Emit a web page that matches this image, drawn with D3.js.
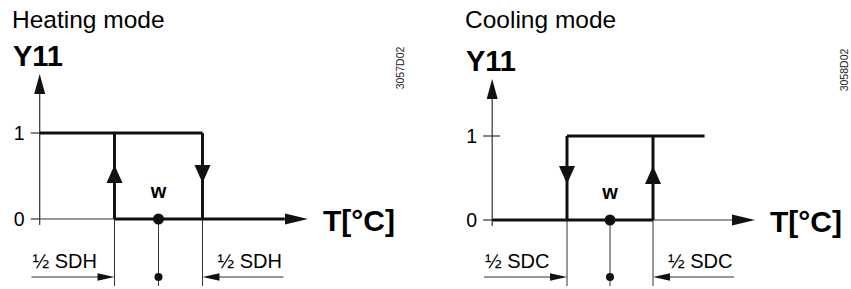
<!DOCTYPE html>
<html>
<head>
<meta charset="utf-8">
<script src="https://cdn.jsdelivr.net/npm/d3@7"></script>
<style>
  body { margin: 0; background: #fff; }
  svg { display: block; font-family: "Liberation Sans", Arial, sans-serif; }
</style>
</head>
<body>
<div class="container"></div>
<script>
// values (x in units of half switching differential, w = 0)
const titles = ["Heating mode", "Cooling mode"];
const yLabel = "Y11";
const xLabel = "T[°C]";
const dimLabels = ["½ SDH", "½ SDC"];
const drawingIds = ["3057D02", "3058D02"];
const yTicks = [0, 1];
const setpoint = 0;
const switchPoints = [-1, 1];
const heatingUpper = [[-2.7, 1], [1, 1]];
const heatingLower = [[-1, 0], [2.87, 0]];
const coolingUpper = [[-1, 1], [2.2, 1]];
const coolingLower = [[-2.74, 0], [1, 0]];
const heatingRise = -1, heatingFall = 1;
const coolingRise = 1, coolingFall = -1;

const width = 851, height = 289;

const svg = d3.select('.container')
    .append('svg')
    .attr('width', width)
    .attr('height', height);

const line = d3.line();

function arrowHead(g, tip, dir, len, half) {
    // dir: 'up' | 'down' | 'left' | 'right'
    let pts;
    const [x, y] = tip;
    if (dir == 'up') pts = [[x, y], [x - half, y + len], [x + half, y + len]];
    if (dir == 'down') pts = [[x, y], [x - half, y - len], [x + half, y - len]];
    if (dir == 'right') pts = [[x, y], [x - len, y - half], [x - len, y + half]];
    if (dir == 'left') pts = [[x, y], [x + len, y - half], [x + len, y + half]];
    g.append('path').attr('d', line(pts) + 'Z').attr('fill', '#111');
}

function drawPanel(p) {
    const g = svg.append('g');
    const x = d3.scaleLinear().domain(switchPoints).range(p.xRange);
    const y = d3.scaleLinear().domain([0, 1]).range(p.yRange);
    const ax = x(Math.min(p.lower[0][0], p.upper[0][0]));

    g.append('text').attr('x', p.titleX).attr('y', 28)
        .attr('font-size', 24.5).text(p.title);
    g.append('text').attr('x', p.titleX + 1).attr('y', p.yLabelY)
        .attr('font-size', 29).attr('font-weight', 'bold').text(yLabel);

    // y axis
    g.append('line').attr('x1', ax).attr('x2', ax)
        .attr('y1', p.yArrowTip + 18).attr('y2', y(0) + 6)
        .attr('stroke', '#333').attr('stroke-width', 1.2);
    arrowHead(g, [ax, p.yArrowTip], 'up', 20, 5.5);

    // y ticks + labels
    yTicks.forEach(t => {
        g.append('line').attr('x1', ax - 9).attr('x2', ax + p.tickOut)
            .attr('y1', y(t)).attr('y2', y(t))
            .attr('stroke', '#333').attr('stroke-width', 1.2);
        g.append('text').attr('x', ax - 15).attr('y', y(t) + 7)
            .attr('font-size', 19.5).attr('text-anchor', 'end').text(t);
    });

    // x axis
    g.append('line').attr('x1', ax).attr('x2', p.xArrowTip - 20)
        .attr('y1', y(0)).attr('y2', y(0))
        .attr('stroke', '#333').attr('stroke-width', 1.2);
    arrowHead(g, [p.xArrowTip, y(0)], 'right', 23, 5.5);
    g.append('text').attr('x', p.xArrowTip + 15).attr('y', y(0) + 12)
        .attr('font-size', 30).attr('font-weight', 'bold').text(xLabel);

    // drop lines below the axis
    [switchPoints[0], setpoint, switchPoints[1]].forEach(v => {
        g.append('line').attr('x1', x(v)).attr('x2', x(v))
            .attr('y1', y(0)).attr('y2', 286)
            .attr('stroke', '#333').attr('stroke-width', 1);
    });

    // switching characteristic
    const thick = pts => g.append('path')
        .attr('d', line(pts.map(d => [x(d[0]), y(d[1])])))
        .attr('fill', 'none').attr('stroke', '#111').attr('stroke-width', 3);
    thick(p.upper);
    thick(p.lower);
    thick([[p.rise, 0], [p.rise, 1]]);
    thick([[p.fall, 0], [p.fall, 1]]);
    arrowHead(g, [x(p.rise), y(0) - 54], 'up', 18, 8);
    arrowHead(g, [x(p.fall), y(0) - 36], 'down', 18, 8);

    // setpoint
    g.append('circle').attr('cx', x(setpoint)).attr('cy', y(0)).attr('r', 5.5).attr('fill', '#111');
    g.append('text').attr('x', x(setpoint)).attr('y', y(0) - 21)
        .attr('font-size', 20).attr('font-weight', 'bold')
        .attr('text-anchor', 'middle').text('w');

    // dimension line for half switching differential
    const dy = 277;
    g.append('line').attr('x1', x(switchPoints[0]) - 83).attr('x2', x(switchPoints[0]) - 10)
        .attr('y1', dy).attr('y2', dy).attr('stroke', '#333').attr('stroke-width', 1);
    arrowHead(g, [x(switchPoints[0]), dy], 'right', 17, 3.8);
    g.append('line').attr('x1', x(switchPoints[1]) + 10).attr('x2', x(switchPoints[1]) + 81)
        .attr('y1', dy).attr('y2', dy).attr('stroke', '#333').attr('stroke-width', 1);
    arrowHead(g, [x(switchPoints[1]), dy], 'left', 17, 3.8);
    g.append('circle').attr('cx', x(setpoint)).attr('cy', dy).attr('r', 4).attr('fill', '#111');

    g.append('text').attr('x', x(switchPoints[0]) - 82).attr('y', 268)
        .attr('font-size', 20).text(p.dim);
    g.append('text').attr('x', x(switchPoints[1]) + 15).attr('y', 268)
        .attr('font-size', 20).text(p.dim);

    // drawing number
    g.append('text')
        .attr('transform', 'translate(' + p.idX + ',' + p.idY + ') rotate(-90)')
        .attr('font-size', 10.5).attr('fill', '#222').attr('text-anchor', 'middle')
        .text(p.id);
}

drawPanel({
    title: titles[0], dim: dimLabels[0], id: drawingIds[0],
    upper: heatingUpper, lower: heatingLower, rise: heatingRise, fall: heatingFall,
    xRange: [114.5, 202.5], yRange: [219, 133],
    titleX: 12, yLabelY: 66, yArrowTip: 74, tickOut: 0, xArrowTip: 308,
    idX: 404, idY: 68
});

drawPanel({
    title: titles[1], dim: dimLabels[1], id: drawingIds[1],
    upper: coolingUpper, lower: coolingLower, rise: coolingRise, fall: coolingFall,
    xRange: [567, 653], yRange: [220, 136],
    titleX: 465, yLabelY: 71, yArrowTip: 79, tickOut: 8, xArrowTip: 755,
    idX: 848, idY: 70
});
</script>
</body>
</html>
